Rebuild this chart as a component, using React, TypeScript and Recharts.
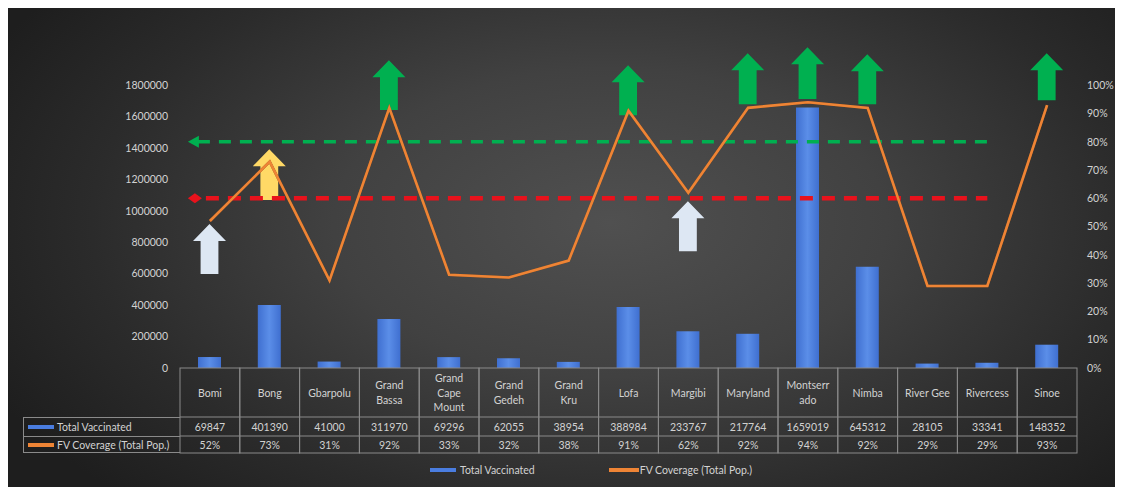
import { ComposedChart, Bar, Line, XAxis, YAxis, ReferenceLine } from "recharts"

const categories = [
  "Bomi", "Bong", "Gbarpolu", "Grand Bassa", "Grand Cape Mount", "Grand Gedeh", "Grand Kru",
  "Lofa", "Margibi", "Maryland", "Montserrado", "Nimba", "River Gee", "Rivercess", "Sinoe",
]
const headerLines = [
  ["Bomi"], ["Bong"], ["Gbarpolu"], ["Grand", "Bassa"], ["Grand", "Cape", "Mount"], ["Grand", "Gedeh"],
  ["Grand", "Kru"], ["Lofa"], ["Margibi"], ["Maryland"], ["Montserr", "ado"], ["Nimba"], ["River Gee"],
  ["Rivercess"], ["Sinoe"],
]
const totalVaccinated = [
  69847, 401390, 41000, 311970, 69296, 62055, 38954, 388984, 233767, 217764, 1659019, 645312, 28105, 33341, 148352,
]
const fvCoverage = [0.52, 0.73, 0.31, 0.92, 0.33, 0.32, 0.38, 0.91, 0.62, 0.92, 0.94, 0.92, 0.29, 0.29, 0.93]

// arrow markers (in coverage units, right axis)
const arrowBase = [0.332, 0.594, null, 0.912, null, null, null, 0.894, 0.413, 0.933, 0.951, 0.933, null, null, 0.947]
const arrowTip = [0.509, 0.774, null, 1.088, null, null, null, 1.071, 0.59, 1.113, 1.134, 1.11, null, null, 1.113]
const arrowColor = [
  "#dde7f3", "#ffd966", null, "#00b050", null, null, null, "#00b050", "#dde7f3", "#00b050", "#00b050",
  "#00b050", null, null, "#00b050",
]

const leftTicks = [0, 200000, 400000, 600000, 800000, 1000000, 1200000, 1400000, 1600000, 1800000]
const rightTicks = [0, 0.1, 0.2, 0.3, 0.4, 0.5, 0.6, 0.7, 0.8, 0.9, 1]
const targetHigh = 0.8
const targetLow = 0.6

const data = categories.map((name, i) => ({
  name,
  vaccinated: totalVaccinated[i],
  coverage: fvCoverage[i],
  arrow: arrowBase[i] == null ? null : [arrowBase[i], arrowTip[i]],
  arrowColor: arrowColor[i],
}))

const FONT = "Lato, 'Open Sans', sans-serif"
const TXT = "#d2d2d2"
const GRID = "#8a8a8a"
const CHART_W = 1115
const CHART_H = 460
const MARGIN_B = 8
const X_AXIS_H = 90
const Y_LEFT_W = 172
const Y_RIGHT_W = 46
const COL_W = (CHART_W - Y_LEFT_W - Y_RIGHT_W) / categories.length
const PLOT_BOTTOM = CHART_H - MARGIN_B - X_AXIS_H

function ArrowShape(props: any) {
  const { x, y, width, height, payload } = props
  const color = payload?.arrowColor
  if (!color || !height || height <= 0) return null
  const cx = x + width / 2
  const half = width / 2
  const shaft = width * 0.27
  const head = Math.min(17, height * 0.36)
  const pts = [
    [cx, y], [cx + half, y + head], [cx + shaft, y + head], [cx + shaft, y + height],
    [cx - shaft, y + height], [cx - shaft, y + head], [cx - half, y + head],
  ].map((p) => p.join(",")).join(" ")
  return <polygon points={pts} fill={color} />
}

function TableTick(props: any) {
  const { x, index } = props
  const y = PLOT_BOTTOM
  const lines = headerLines[index] || []
  const left = x - COL_W / 2
  const mid = y + 24.5
  const start = mid - ((lines.length - 1) * 14.5) / 2
  return (
    <g fontFamily={FONT} fontSize={10.5} fill={TXT}>
      <rect x={left} y={y} width={COL_W} height={85} fill="none" stroke={GRID} strokeWidth={1} />
      <line x1={left} x2={left + COL_W} y1={y + 49} y2={y + 49} stroke={GRID} />
      <line x1={left} x2={left + COL_W} y1={y + 68} y2={y + 68} stroke={GRID} />
      {lines.map((l: string, k: number) => (
        <text key={k} x={x} y={start + k * 14.5} textAnchor="middle" dominantBaseline="central">
          {l}
        </text>
      ))}
      <text x={x} y={y + 58.5} textAnchor="middle" dominantBaseline="central">
        {totalVaccinated[index]}
      </text>
      <text x={x} y={y + 76.5} textAnchor="middle" dominantBaseline="central">
        {Math.round(fvCoverage[index] * 100)}%
      </text>
    </g>
  )
}

function GreenTarget(props: any) {
  const { x1, y1, x2 } = props
  const sx = x1 - 22
  return (
    <g>
      <line x1={sx + 10} y1={y1} x2={x2} y2={y1} stroke="#00b050" strokeWidth={3.5} strokeDasharray="12 9" />
      <polygon points={`${sx},${y1} ${sx + 11},${y1 - 6} ${sx + 11},${y1 + 6}`} fill="#00b050" />
    </g>
  )
}

function RedTarget(props: any) {
  const { x1, y1, x2 } = props
  const sx = x1 - 22
  return (
    <g>
      <line x1={sx + 18} y1={y1} x2={x2} y2={y1} stroke="#e8121c" strokeWidth={4.5} strokeDasharray="13 9" />
      <polygon points={`${sx},${y1} ${sx + 7},${y1 - 5} ${sx + 14},${y1} ${sx + 7},${y1 + 5}`} fill="#e8121c" />
    </g>
  )
}

export default function App() {
  return (
    <div
      style={{
        position: "relative",
        width: CHART_W,
        height: 481,
        marginTop: -2,
        fontFamily: FONT,
        background:
          "radial-gradient(ellipse 62% 80% at 54% 45%, #505050 0%, #414141 40%, #2b2b2b 75%, #1e1e1e 100%)",
      }}
    >
      <div style={{ position: "absolute", left: 0, top: 0 }}>
        <ComposedChart
          width={CHART_W}
          height={CHART_H}
          data={data}
          margin={{ top: 34, right: 0, bottom: MARGIN_B, left: 0 }}
        >
          <defs>
            <linearGradient id="barGrad" x1="0" y1="0" x2="1" y2="0">
              <stop offset="0%" stopColor="#3f6fd0" />
              <stop offset="50%" stopColor="#5b8ee8" />
              <stop offset="100%" stopColor="#3f6fd0" />
            </linearGradient>
            <filter id="lineShadow" x="-5%" y="-5%" width="110%" height="110%">
              <feDropShadow dx="0" dy="0" stdDeviation="0.7" floodColor="#2a1200" floodOpacity="0.9" />
            </filter>
          </defs>
          <XAxis
            xAxisId="cat"
            dataKey="name"
            height={X_AXIS_H}
            interval={0}
            axisLine={false}
            tickLine={false}
            tickSize={0}
            tickMargin={0}
            tick={<TableTick />}
          />
          <XAxis xAxisId="arr" dataKey="name" hide />
          <YAxis
            yAxisId="left"
            width={Y_LEFT_W}
            domain={[0, 2088000]}
            ticks={leftTicks}
            axisLine={false}
            tickLine={false}
            tickSize={0}
            tickMargin={12}
            tick={{ fill: TXT, fontSize: 10.5, fontFamily: FONT }}
          />
          <YAxis
            yAxisId="right"
            orientation="right"
            width={Y_RIGHT_W}
            domain={[0, 1.16]}
            ticks={rightTicks}
            axisLine={false}
            tickLine={false}
            tickSize={0}
            tickMargin={10}
            tickFormatter={(v: number) => `${Math.round(v * 100)}%`}
            tick={{ fill: TXT, fontSize: 10.5, fontFamily: FONT, textAnchor: "start" }}
          />
          <Bar
            xAxisId="cat"
            yAxisId="left"
            dataKey="vaccinated"
            name="Total Vaccinated"
            fill="url(#barGrad)"
            barSize={23}
            isAnimationActive={false}
          />
          <ReferenceLine
            xAxisId="cat"
            yAxisId="right"
            segment={[{ x: categories[0], y: targetHigh }, { x: categories[13], y: targetHigh }]}
            shape={GreenTarget}
          />
          <ReferenceLine
            xAxisId="cat"
            yAxisId="right"
            segment={[{ x: categories[0], y: targetLow }, { x: categories[13], y: targetLow }]}
            shape={RedTarget}
          />
          <Line
            xAxisId="cat"
            yAxisId="right"
            type="linear"
            dataKey="coverage"
            name="FV Coverage (Total Pop.)"
            stroke="#ee8435"
            strokeWidth={2.6}
            filter="url(#lineShadow)"
            dot={false}
            activeDot={false}
            isAnimationActive={false}
          />
          <Bar
            xAxisId="arr"
            yAxisId="right"
            dataKey="arrow"
            barSize={33}
            shape={ArrowShape}
            isAnimationActive={false}
          />
        </ComposedChart>
      </div>

      {/* row labels of the data table */}
      <div
        style={{
          position: "absolute",
          left: 15,
          top: PLOT_BOTTOM + 49,
          width: Y_LEFT_W - 15,
          fontSize: 10.5,
          color: TXT,
          boxSizing: "border-box",
          borderLeft: `1px solid ${GRID}`,
        }}
      >
        {[
          { label: "Total Vaccinated", color: "#4a7de0" },
          { label: "FV Coverage (Total Pop.)", color: "#ee8435" },
        ].map((r, i) => (
          <div
            key={r.label}
            style={{
              height: i === 0 ? 19 : 17,
              display: "flex",
              alignItems: "center",
              borderTop: `1px solid ${GRID}`,
              borderBottom: i === 1 ? `1px solid ${GRID}` : undefined,
              boxSizing: "border-box",
              paddingLeft: 4,
              whiteSpace: "nowrap",
            }}
          >
            <span style={{ display: "inline-block", width: 26, height: 4, background: r.color, marginRight: 3 }} />
            {r.label}
          </div>
        ))}
      </div>

      {/* legend */}
      <div
        style={{
          position: "absolute",
          left: 422,
          top: 458,
          display: "flex",
          alignItems: "center",
          fontSize: 10.5,
          color: TXT,
          whiteSpace: "nowrap",
        }}
      >
        <span style={{ display: "inline-block", width: 26, height: 4, background: "#4a7de0", marginRight: 4 }} />
        <span style={{ marginRight: 100 - 26 }}>Total Vaccinated</span>
        <span style={{ display: "inline-block", width: 30, height: 4, background: "#ee8435", marginRight: 1 }} />
        <span>FV Coverage (Total Pop.)</span>
      </div>
    </div>
  )
}
